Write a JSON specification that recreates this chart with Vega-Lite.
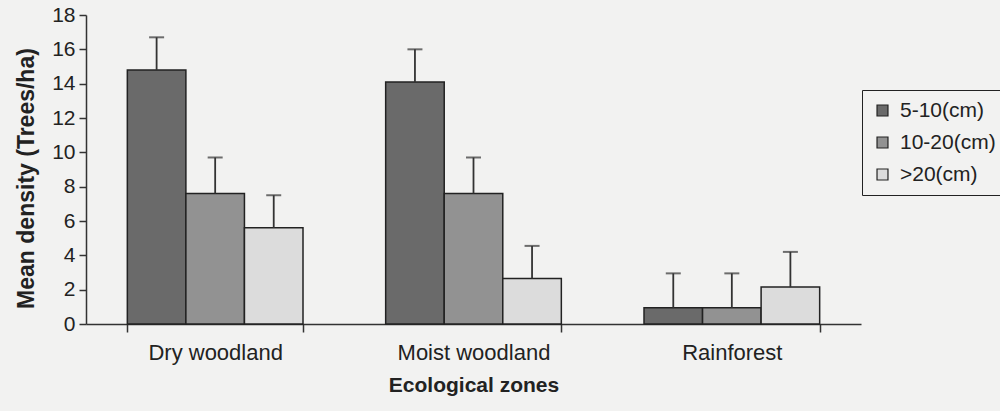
{
  "$schema": "https://vega.github.io/schema/vega-lite/v6.json",
  "autosize": {"type": "none"},
  "width": 775,
  "height": 309,
  "padding": {"left": 86, "top": 15, "right": 139, "bottom": 87},
  "background": "#f2f2f1",
  "config": {
    "font": "Liberation Sans",
    "view": {"stroke": null},
    "axis": {"grid": false, "domainColor": "#333", "tickColor": "#333", "labelColor": "#222", "titleColor": "#222", "domainWidth": 1.5, "tickWidth": 1.5}
  },
  "data": {
    "values": [
      {"zone": "Dry woodland", "size": "5-10(cm)", "mean": 14.8, "upper": 16.7},
      {"zone": "Dry woodland", "size": "10-20(cm)", "mean": 7.6, "upper": 9.7},
      {"zone": "Dry woodland", "size": ">20(cm)", "mean": 5.6, "upper": 7.5},
      {"zone": "Moist woodland", "size": "5-10(cm)", "mean": 14.1, "upper": 16.0},
      {"zone": "Moist woodland", "size": "10-20(cm)", "mean": 7.6, "upper": 9.7},
      {"zone": "Moist woodland", "size": ">20(cm)", "mean": 2.65, "upper": 4.55},
      {"zone": "Rainforest", "size": "5-10(cm)", "mean": 0.95, "upper": 2.95},
      {"zone": "Rainforest", "size": "10-20(cm)", "mean": 0.95, "upper": 2.95},
      {"zone": "Rainforest", "size": ">20(cm)", "mean": 2.15, "upper": 4.2}
    ]
  },
  "encoding": {
    "x": {
      "field": "zone", "type": "nominal",
      "sort": ["Dry woodland", "Moist woodland", "Rainforest"],
      "scale": {"paddingInner": 0.32, "paddingOuter": 0.16},
      "axis": {"title": "Ecological zones", "labelAngle": 0, "labelFontSize": 22, "titleFontSize": 21, "titleFontWeight": "bold", "tickBand": "extent", "tickSize": 8, "labelPadding": 10, "titlePadding": 11}
    },
    "xOffset": {"field": "size", "type": "nominal", "sort": ["5-10(cm)", "10-20(cm)", ">20(cm)"], "scale": {"paddingInner": 0}},
    "y": {
      "field": "mean", "type": "quantitative",
      "scale": {"domain": [0, 18], "nice": false},
      "axis": {"title": "Mean density (Trees/ha)", "values": [0, 2, 4, 6, 8, 10, 12, 14, 16, 18], "labelOverlap": false, "labelFontSize": 21, "titleFontSize": 23, "titleFontWeight": "bold", "tickSize": 7, "labelPadding": 4, "titlePadding": 13, "titleY": 163}
    }
  },
  "layer": [
    {
      "mark": {"type": "bar", "stroke": "#222", "strokeWidth": 1.5},
      "encoding": {
        "color": {
          "field": "size", "type": "nominal",
          "sort": ["5-10(cm)", "10-20(cm)", ">20(cm)"],
          "scale": {"range": ["#6a6a6a", "#929292", "#dcdcdc"]},
          "legend": {
            "title": null, "orient": "none", "legendX": 776, "legendY": 75,
            "strokeColor": "#222", "padding": 10, "fillColor": "#f2f2f1",
            "labelFontSize": 21, "labelColor": "#222", "symbolType": "square", "symbolSize": 120,
            "symbolStrokeColor": "#222", "symbolStrokeWidth": 1.2, "rowPadding": 10, "labelOffset": 7
          }
        }
      }
    },
    {
      "mark": {"type": "rule", "color": "#333", "strokeWidth": 1.8},
      "encoding": {
        "y2": {"field": "upper"}
      }
    },
    {
      "mark": {"type": "tick", "color": "#333", "thickness": 2, "size": 15},
      "encoding": {
        "y": {"field": "upper", "type": "quantitative"}
      }
    }
  ]
}
